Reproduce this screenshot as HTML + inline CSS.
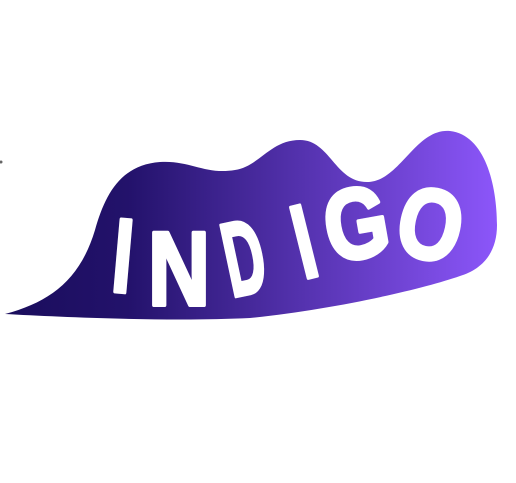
<!DOCTYPE html>
<html><head><meta charset="utf-8"><style>
html,body{margin:0;padding:0;background:#fff;width:516px;height:483px;overflow:hidden}
</style></head><body>
<svg width="516" height="483" viewBox="0 0 516 483">
<defs><linearGradient id="g" x1="0" x2="1" y1="0" y2="0">
<stop offset="0" stop-color="#1a0d5c"/><stop offset="0.25" stop-color="#23126b"/><stop offset="1" stop-color="#8c56fa"/></linearGradient></defs>
<circle cx="1" cy="162" r="1.5" fill="#666"/>
<path fill="url(#g)" d="M5,314 C50,302 80,280 95,230 C105,195 120,165 160,162 C190,160 205,175 235,170 C260,166 270,140 300,140 C330,140 335,182 367,182 C400,182 415,128 450,131 C485,135 497,185 497,225 C497,255 480,270 460,276 C420,290 330,310 250,318 C170,322 60,317 5,314 Z"/>
<g fill="#fff" stroke="#fff" stroke-width="4" stroke-linejoin="round" font-family="Liberation Sans, sans-serif" font-weight="bold">
<text x="113" y="292" font-size="105" transform="rotate(5 123 255)" textLength="20" lengthAdjust="spacingAndGlyphs">I</text>
<text x="148" y="305" font-size="105" transform="rotate(0 178 268)" textLength="62" lengthAdjust="spacingAndGlyphs">N</text>
<text x="224" y="294" font-size="105" transform="rotate(-12 243 258)" textLength="40" lengthAdjust="spacingAndGlyphs">D</text>
<text x="294" y="278" font-size="105" transform="rotate(-14 303 240)" textLength="19" lengthAdjust="spacingAndGlyphs">I</text>
<text x="324" y="258" font-size="100" transform="rotate(-10 356 222)" textLength="64" lengthAdjust="spacingAndGlyphs">G</text>
<text x="399" y="259" font-size="100" transform="rotate(12 431 222)" textLength="64" lengthAdjust="spacingAndGlyphs">O</text>
</g>
</svg>
</body></html>
